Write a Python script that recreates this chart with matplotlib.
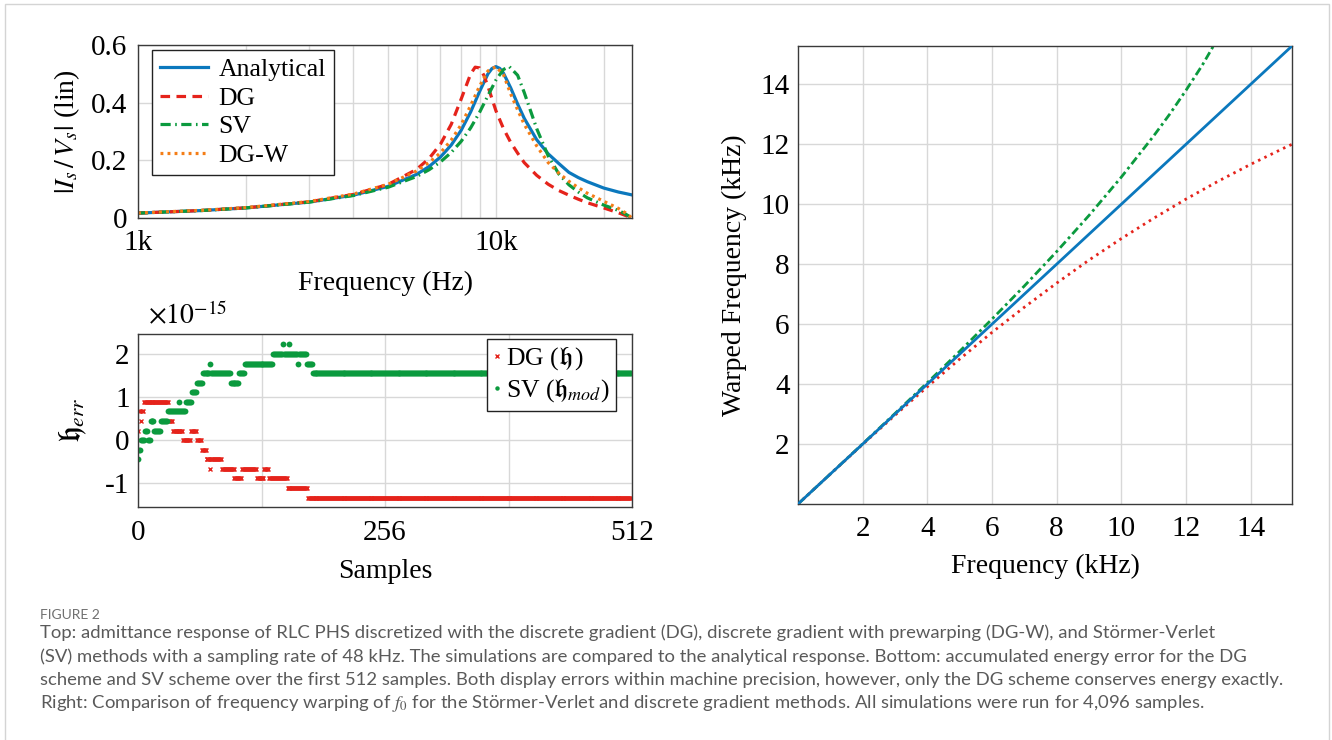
import numpy as np
import matplotlib
matplotlib.use("Agg")
from matplotlib import pyplot as plt
from matplotlib.patches import Rectangle
from matplotlib.lines import Line2D

plt.rcParams["font.family"] = ["Liberation Serif", "DejaVu Serif"]
plt.rcParams["mathtext.fontset"] = "stix"

# colours
c_blue = "#0b78bd"
c_red = "#e5231b"
c_green = "#0b9a3e"
c_orange = "#f47d16"
c_grid = "#d8d8d8"

# ---- top left: admittance response (freq in kHz, magnitude lin) ----
f_an = [1, 1.5, 2, 3, 4, 5, 6, 6.5, 7, 7.5, 8, 8.5, 9, 9.5, 9.75, 10, 10.25, 10.5, 11, 11.5, 12, 13, 14, 15, 16, 17, 18, 20, 22, 23, 24]
y_an = [0.0170, 0.0258, 0.0350, 0.0552, 0.0793, 0.1098, 0.1512, 0.1782, 0.2115, 0.2529, 0.3046, 0.3678, 0.4384, 0.4999, 0.5185, 0.525, 0.5189, 0.5021, 0.451, 0.3951, 0.3456, 0.2715, 0.2224, 0.1885, 0.158, 0.140, 0.126, 0.104, 0.090, 0.085, 0.080]

f_dg = [1, 1.5, 2, 3, 4, 5, 6, 6.5, 7, 7.5, 8, 8.5, 8.75, 9, 9.25, 9.5, 10, 10.5, 11, 11.5, 12, 13, 14, 15, 16, 17, 18, 20, 22, 23, 24]
y_dg = [0.0170, 0.0259, 0.0352, 0.0560, 0.0818, 0.1165, 0.1684, 0.2059, 0.2561, 0.3245, 0.4131, 0.4998, 0.5231, 0.5206, 0.4955, 0.4564, 0.372, 0.310, 0.262, 0.225, 0.192, 0.148, 0.117, 0.095, 0.079, 0.065, 0.053, 0.035, 0.018, 0.009, 0.0]

f_sv = [1, 1.5, 2, 3, 4, 5, 6, 6.5, 7, 7.5, 8, 8.5, 9, 9.5, 10, 10.5, 10.9, 11.5, 12, 13, 14, 15, 16, 17, 18, 20, 22, 23, 24]
y_sv = [0.0170, 0.0258, 0.0349, 0.0548, 0.0780, 0.1067, 0.1438, 0.1671, 0.1945, 0.2272, 0.2662, 0.3126, 0.3663, 0.4243, 0.4783, 0.5152, 0.525, 0.495, 0.435, 0.31, 0.215, 0.152, 0.115, 0.09, 0.07, 0.045, 0.026, 0.014, 0.0]

f_dgw = [1, 1.5, 2, 3, 4, 5, 6, 6.5, 7, 7.5, 8, 8.5, 9, 9.5, 10, 10.5, 11, 11.5, 12, 13, 14, 15, 16, 17, 18, 20, 22, 23, 24]
y_dgw = [0.0175, 0.0265, 0.036, 0.057, 0.083, 0.117, 0.163, 0.192, 0.226, 0.27, 0.324, 0.39, 0.457, 0.51, 0.525, 0.497, 0.43, 0.375, 0.325, 0.25, 0.192, 0.155, 0.127, 0.105, 0.086, 0.058, 0.033, 0.018, 0.0]

# ---- bottom left: accumulated energy error runs (start, end, value x1e-15) ----
dg_runs = [(0, 0, 0.222), (1, 2, 0.666), (3, 3, 0.444), (4, 5, 0.666), (6, 31, 0.888),
           (32, 35, 0.444), (36, 46, 0.222), (47, 54, 0.0), (55, 60, 0.222), (61, 65, 0.0),
           (66, 70, -0.222), (71, 74, -0.444), (75, 75, -0.666), (76, 86, -0.444),
           (87, 99, -0.666), (100, 107, -0.888), (108, 122, -0.666), (123, 130, -0.888),
           (131, 135, -0.666), (136, 154, -0.888), (155, 175, -1.110), (176, 511, -1.332)]
sv_runs = [(0, 0, -0.444), (1, 2, -0.222), (3, 6, 0.0), (7, 9, 0.222), (10, 12, 0.0),
           (13, 16, 0.444), (17, 23, 0.222), (24, 30, 0.444), (31, 41, 0.666), (42, 42, 0.888),
           (43, 49, 0.666), (50, 55, 0.888), (56, 60, 1.110), (61, 66, 1.332), (67, 74, 1.554),
           (75, 75, 1.776), (76, 95, 1.554), (96, 104, 1.332), (105, 110, 1.554),
           (111, 139, 1.776), (140, 149, 1.998), (150, 150, 2.220), (151, 156, 1.998),
           (157, 157, 2.220), (158, 165, 1.998), (166, 166, 1.776), (167, 174, 1.998),
           (175, 180, 1.776), (181, 511, 1.554)]

# ---- right: frequency warping (kHz) ----
f_in = [0, 1, 2, 3, 4, 5, 6, 7, 8, 9, 10, 11, 12, 13, 14, 15, 15.28]
w_dg = [0, 0.999, 1.989, 2.962, 3.911, 4.834, 5.725, 6.565, 7.369, 8.137, 8.854, 9.532, 10.172, 10.771, 11.331, 11.859, 12.0]
f_in_sv = [0, 1, 2, 3, 4, 5, 6, 7, 8, 9, 10, 11, 11.5, 12, 12.5, 13]
w_sv = [0, 1.001, 2.006, 3.020, 4.047, 5.093, 6.168, 7.272, 8.420, 9.626, 10.905, 12.278, 13.01, 13.80, 14.63, 15.56]
f_lim = 15.28


def expand(runs):
    xs, ys = [], []
    for a, b, v in runs:
        for s in range(a, b + 1):
            xs.append(s)
            ys.append(v)
    return xs, ys


W, H = 1332, 740
TICK = 21
LAB = 20
fig = plt.figure(figsize=(W / 100, H / 100), dpi=100)

# outer frame
fig.patches.append(Rectangle((5 / W, -0.1), 1324 / W, 1.1 - 4 / H, transform=fig.transFigure,
                             fill=False, edgecolor="#d4d4d4", lw=1.0))


def style(ax):
    ax.set_axisbelow(True)
    for s in ax.spines.values():
        s.set_color("#3a3a3a")
        s.set_linewidth(1.0)
    ax.tick_params(which="both", length=0, labelsize=TICK, pad=6)
    ax.tick_params(axis="x", pad=9)


# top left
ax1 = fig.add_axes([138 / W, 1 - 218 / H, 494 / W, 173 / H])
style(ax1)
ax1.set_xscale("log")
ax1.plot(np.array(f_an) * 1000, y_an, color=c_blue, lw=2.3, label="Analytical")
ax1.plot(np.array(f_dg) * 1000, y_dg, color=c_red, lw=2.3, dashes=(3, 2), label="DG")
ax1.plot(np.array(f_sv) * 1000, y_sv, color=c_green, lw=2.3, dashes=(3.2, 1.4, 0.5, 1.4), label="SV")
ax1.plot(np.array(f_dgw) * 1000, y_dgw, color=c_orange, lw=2.3, dashes=(0.9, 1.3), label="DG-W")
ax1.set_xlim(1000, 24000)
ax1.set_ylim(0, 0.6)
ax1.set_xticks([1000, 10000])
ax1.set_xticklabels(["1k", "10k"])
ax1.set_xticks([2000, 3000, 4000, 5000, 6000, 7000, 8000, 9000, 20000], minor=True)
ax1.set_xticklabels([], minor=True)
ax1.set_yticks([0, 0.2, 0.4, 0.6])
ax1.set_yticklabels(["0", "0.2", "0.4", "0.6"])
ax1.tick_params(axis="y", pad=8)
ax1.grid(True, which="both", color=c_grid, lw=1.0)
ax1.set_xlabel("Frequency (Hz)", fontsize=LAB, labelpad=10)
ax1.set_ylabel(r"$|I_s\,/\,V_s|$ (lin)", fontsize=LAB, labelpad=6)
leg = ax1.legend(loc="upper left", fontsize=18.5, frameon=True, fancybox=False, framealpha=1,
                 edgecolor="#222222", handlelength=1.9, labelspacing=0.22, borderpad=0.3,
                 handletextpad=0.4, borderaxespad=0.0, bbox_to_anchor=(0.028, 0.97))
leg.get_frame().set_linewidth(1.0)

# bottom left
ax2 = fig.add_axes([138 / W, 1 - 507 / H, 494 / W, 173 / H])
style(ax2)
x_dg, e_dg = expand(dg_runs)
x_sv, e_sv = expand(sv_runs)
ax2.plot(x_dg, e_dg, ls="none", marker="x", ms=3.2, mew=1.0, color=c_red)
ax2.plot(x_sv, e_sv, ls="none", marker="o", ms=4.2, mew=0, color=c_green)
ax2.set_xlim(0, 512)
ax2.set_ylim(-1.55, 2.46)
ax2.set_xticks([0, 256, 512])
ax2.set_xticks([128, 384], minor=True)
ax2.set_yticks([-1, 0, 1, 2])
ax2.set_yticklabels(["-1", "0", "1", "2"])
ax2.grid(True, which="both", color=c_grid, lw=1.0)
ax2.set_xlabel("Samples", fontsize=LAB, labelpad=10)
ax2.set_ylabel(r"$\mathfrak{h}_{err}$", fontsize=22, labelpad=12)
ax2.text(0.02, 1.02, r"$\times10^{-15}$", transform=ax2.transAxes, fontsize=20, va="bottom")
h_dg = Line2D([], [], ls="none", marker="x", ms=2.5, mew=1.0, color=c_red)
h_sv = Line2D([], [], ls="none", marker="o", ms=3.2, mew=0, color=c_green)
leg2 = ax2.legend([h_dg, h_sv], [r"DG ($\mathfrak{h}\,$)", r"SV ($\mathfrak{h}_{mod}$)"],
                  loc="upper right", fontsize=18.5, frameon=True, fancybox=False, framealpha=1,
                  edgecolor="#222222", handlelength=0.3, handletextpad=0.2, labelspacing=0.2,
                  borderpad=0.25, borderaxespad=0.0, bbox_to_anchor=(0.968, 0.97))
leg2.get_frame().set_linewidth(1.0)

# right
ax3 = fig.add_axes([798 / W, 1 - 504 / H, 494 / W, 458 / H])
style(ax3)
ax3.plot([0, f_lim], [0, f_lim], color=c_blue, lw=2.0, zorder=3)
ax3.plot(f_in_sv, w_sv, color=c_green, lw=2.0, dashes=(3, 1.3, 1, 1.3), zorder=2)
ax3.plot(f_in, w_dg, color=c_red, lw=2.0, dashes=(0.9, 1.6), zorder=2)
ax3.set_xlim(0, f_lim)
ax3.set_ylim(0, f_lim)
ticks = [2, 4, 6, 8, 10, 12, 14]
ax3.set_xticks(ticks)
ax3.set_yticks(ticks)
ax3.grid(True, color=c_grid, lw=1.0)
ax3.set_xlabel("Frequency (kHz)", fontsize=LAB, labelpad=8)
ax3.set_ylabel("Warped Frequency (kHz)", fontsize=LAB, labelpad=10)

# caption
cap_font = ["Lato", "DejaVu Sans"]
fig.text(40 / W, 1 - 615 / H, "FIGURE 2", fontsize=10, color="#707070", family=cap_font,
         va="center")
lines = [
    "Top: admittance response of RLC PHS discretized with the discrete gradient (DG), discrete gradient with prewarping (DG-W), and Störmer-Verlet",
    "(SV) methods with a sampling rate of 48 kHz. The simulations are compared to the analytical response. Bottom: accumulated energy error for the DG",
    "scheme and SV scheme over the first 512 samples. Both display errors within machine precision, however, only the DG scheme conserves energy exactly.",
    r"Right: Comparison of frequency warping of $f_0$ for the Störmer-Verlet and discrete gradient methods. All simulations were run for 4,096 samples.",
]
for i, t in enumerate(lines):
    fig.text(40 / W, 1 - (633 + 23.5 * i) / H, t, fontsize=13.3, color="#5a5a5a",
             family=cap_font, va="center")

fig.savefig("out.png", dpi=100)
